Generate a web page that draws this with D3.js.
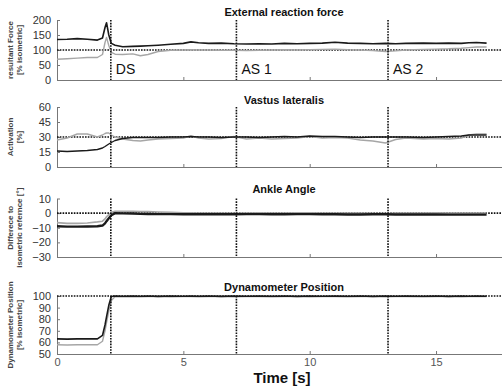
<!DOCTYPE html>
<html>
  <head>
    <meta charset="utf-8">
    <title>Reaction force, activation, angle and position</title>
    <script src="https://d3js.org/d3.v7.min.js"></script>
    <style>
      body { margin: 0; background: #fff; }
      svg { font-family: Arial, "Liberation Sans", sans-serif; }
      .axis path, .axis line { stroke: #777; }
      .axis text { fill: #333; font-size: 11px; font-family: Arial, "Liberation Sans", sans-serif; }
      .title { font-weight: bold; font-size: 11px; fill: #111; }
      .ylab { font-weight: bold; font-size: 8px; fill: #444; }
      .plot { fill: none; stroke-linejoin: round; }
      .ref { stroke: #111; stroke-width: 1.6; stroke-dasharray: 1.6,1.2; }
    </style>
  </head>
  <body>
    <svg id="chart" width="502" height="391"></svg>
    <script>
      // time grid shared by every series (s)
      var time = [0, 0.4, 0.8, 1.2, 1.6, 1.8, 1.9, 1.96, 2.05, 2.15, 2.3, 2.6, 3.0, 3.3, 3.6, 4.0, 4.5, 5.0, 5.3, 5.6,
        6.0, 6.5, 7.0, 7.5, 8.0, 8.5, 9.0, 9.5, 10.0, 10.5, 11.0, 11.5, 12.0, 12.5, 13.0, 13.4, 13.8, 14.5, 15.0, 15.5,
        16.0, 16.3, 16.6, 17.0];

      // external reaction force [% isometric]
      var forceBlack = [135, 136, 138, 136, 133, 140, 175, 191, 150, 122, 116, 111, 112, 113, 114, 116, 119, 122, 127, 124,
        122, 123, 121, 120, 121, 120, 122, 121, 122, 123, 126, 123, 122, 121, 122, 121, 122, 123, 122, 123,
        122, 124, 125, 123];
      var forceGrey = [69, 71, 73, 75, 75, 85, 125, 142, 115, 92, 86, 85, 87, 81, 85, 95, 99, 100, 101, 100,
        100, 99, 99, 98, 99, 100, 101, 100, 101, 102, 103, 101, 100, 98, 95, 97, 100, 102, 103, 104,
        106, 108, 110, 110];

      // vastus lateralis activation [%]
      var vlBlack = [16, 15.5, 16, 16.5, 17.5, 19, 20.5, 21.5, 23, 24.5, 26.5, 28.5, 29.5, 29.5, 29.5, 29.5, 30, 30, 30.5, 30,
        30, 29.5, 30, 30, 29.5, 30, 30.5, 30, 31, 30.5, 30.5, 30, 29.5, 30, 30, 30, 30, 29.5, 30, 30.5,
        31, 32, 32, 32];
      var vlGrey = [27, 29, 33, 33, 30, 32, 33.5, 34, 34, 32, 30, 28, 26.5, 26, 27, 28, 28.5, 29, 31, 29,
        28, 28.5, 30.5, 28, 29, 28, 28.5, 29, 30.5, 29, 29.5, 29, 27, 26, 24, 27.5, 29, 28, 28.5, 28,
        29, 32, 33, 33];

      // ankle angle, difference to isometric reference [°]
      var ankleBlack = [-9, -9.2, -9.2, -9.1, -9, -8.5, -7, -5.5, -3.5, -1.5, 0, -0.2, -0.3, -0.5, -0.6, -0.7, -0.7, -0.8, -0.8, -0.8,
        -0.8, -0.8, -0.8, -0.7, -0.7, -0.8, -0.8, -0.7, -0.7, -0.8, -0.8, -0.9, -0.9, -0.8, -0.8, -0.9, -0.9, -0.9, -0.9, -1,
        -1, -1, -1, -1];
      var ankleGrey = [-6.5, -7, -7, -6.8, -6, -5.5, -4, -2.5, -1, 0.5, 1.2, 1.3, 1.2, 1, 1, 0.8, 0.5, 0.2, 0.2, 0,
        0, 0, -0.2, 0, 0.2, 0, 0, 0.2, 0.3, 0, 0, 0, 0, -0.2, -0.3, 0, 0, 0, 0.2, 0,
        0, 0, 0, 0];

      // dynamometer position [% isometric]
      var dynBlack = [63, 62.8, 63, 63, 63, 66, 75, 82, 92, 99.5, 100, 99.8, 100, 99.8, 100, 99.7, 100, 99.8, 100, 99.8,
        100, 99.7, 100, 99.8, 100, 99.8, 100, 99.7, 100, 99.8, 100, 99.8, 100, 99.7, 100, 99.8, 100, 99.8, 100, 99.7,
        100, 99.8, 100, 99.8];
      var dynGrey = [58, 57.8, 58, 58, 58, 61, 70, 77, 87, 96, 99.5, 99.4, 99.6, 99.4, 99.5, 99.6, 99.4, 99.5, 99.6, 99.4,
        99.5, 99.6, 99.4, 99.5, 99.6, 99.4, 99.5, 99.6, 99.4, 99.5, 99.6, 99.4, 99.5, 99.6, 99.4, 99.5, 99.6, 99.4, 99.5, 99.6,
        99.4, 99.5, 99.6, 99.5];

      // phase markers and labels
      var phaseTimes = [2.13, 7.1, 13.1];
      var phaseLabels = ["DS", "AS 1", "AS 2"];
      var xTicks = [0, 5, 10, 15];

      var panelTitles = ["External reaction force", "Vastus lateralis", "Ankle Angle", "Dynamometer Position"];
      var panelYLabels = [["resultant Force", "[% isometric]"], ["Activation", "[%]"],
        ["Differece to", "isometric refernce [°]"], ["Dynamometer Position", "[% isometric]"]];
      var panelDomains = [[0, 200], [0, 60], [-30, 10], [50, 100]];
      var panelTicks = [[0, 50, 100, 150, 200], [0, 15, 30, 45, 60], [-30, -20, -10, 0, 10], [50, 60, 70, 80, 90, 100]];
      var panelRefs = [100, 30, 0, 100];
      var panelSeries = [[forceGrey, forceBlack], [vlGrey, vlBlack], [ankleGrey, ankleBlack], [dynGrey, dynBlack]];

      // layout
      var left = 57, right = 502;
      var panelTops = [20, 107, 198.5, 296];
      var panelBottoms = [80, 167, 257, 354];
      var titleY = [16, 104, 193, 291];
      var seriesColours = ["#a6a6a6", "#1a1a1a"];
      var seriesWidths = [[1.4, 1.6], [1.4, 1.4], [1.6, 2.4], [1.4, 1.6]];

      var chart = d3.select("#chart");
      var x = d3.scaleLinear().domain([0, 17.61]).range([left, right]);

      panelTitles.forEach(function(title, i) {
        var top = panelTops[i], bottom = panelBottoms[i];
        var y = d3.scaleLinear().domain(panelDomains[i]).range([bottom, top]);
        var g = chart.append("g");

        g.append("text")
          .attr("class", "title")
          .attr("x", 284)
          .attr("y", titleY[i])
          .attr("text-anchor", "middle")
          .text(title);

        // rotated y label, two lines
        var midY = (top + bottom) / 2;
        panelYLabels[i].forEach(function(line, j) {
          g.append("text")
            .attr("class", "ylab")
            .attr("transform", "translate(" + (13 + j * 9) + "," + midY + ") rotate(-90)")
            .attr("text-anchor", "middle")
            .text(line);
        });

        var xAxis = d3.axisBottom(x)
          .tickValues(i === 3 ? xTicks : xTicks.slice(1))
          .tickSizeInner(-3)
          .tickSizeOuter(0)
          .tickPadding(i === 3 ? 4 : 6)
          .tickFormat(i === 3 ? d3.format("d") : "");
        var xg = g.append("g")
          .attr("class", "axis")
          .attr("transform", "translate(0," + bottom + ")")
          .call(xAxis);
        xg.selectAll("text").style("fill", "#555");

        var yAxis = d3.axisLeft(y)
          .tickValues(panelTicks[i])
          .tickSizeInner(-3)
          .tickSizeOuter(0)
          .tickPadding(6);
        g.append("g")
          .attr("class", "axis")
          .attr("transform", "translate(" + left + ",0)")
          .call(yAxis);

        // reference line
        g.append("line")
          .attr("class", "ref")
          .attr("x1", left)
          .attr("x2", right)
          .attr("y1", y(panelRefs[i]))
          .attr("y2", y(panelRefs[i]));

        // series
        panelSeries[i].forEach(function(values, k) {
          var line = d3.line()
            .x(function(d, n) { return x(time[n]); })
            .y(function(d) { return y(d); });
          g.append("path")
            .attr("class", "plot")
            .attr("d", line(values))
            .attr("stroke", seriesColours[k])
            .attr("stroke-width", seriesWidths[i][k]);
        });

        // phase markers
        phaseTimes.forEach(function(t) {
          g.append("line")
            .attr("class", "ref")
            .attr("x1", x(t))
            .attr("x2", x(t))
            .attr("y1", top)
            .attr("y2", bottom);
        });

        if (i === 0) {
          phaseLabels.forEach(function(label, k) {
            g.append("text")
              .attr("x", x(phaseTimes[k]) + 5)
              .attr("y", 74)
              .style("font-size", "14px")
              .style("fill", "#111")
              .text(label);
          });
        }
      });

      chart.append("text")
        .attr("x", 282)
        .attr("y", 383)
        .attr("text-anchor", "middle")
        .style("font-weight", "bold")
        .style("font-size", "15px")
        .style("fill", "#111")
        .text("Time [s]");
    </script>
  </body>
</html>
